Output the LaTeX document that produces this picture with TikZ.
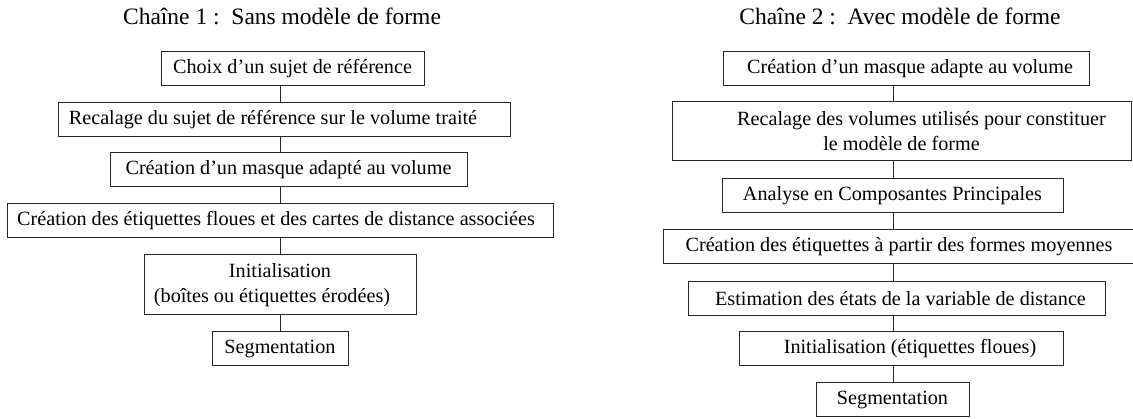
\documentclass[tikz,border=0pt]{standalone}
\usepackage{fontspec}
\setmainfont{Liberation Serif}
\colorlet{trait}{black!85}
\tikzset{
    etape/.style={draw=trait,line width=1pt,inner sep=0pt,minimum height=34pt,align=center,font=\fontsize{20.2}{25}\selectfont},
    titre/.style={inner sep=0pt,anchor=base,font=\fontsize{23.5}{27}\selectfont},
    lien/.style={trait,line width=1pt}
}
\begin{document}
\begin{tikzpicture}[x=1pt,y=-1pt]
    \useasboundingbox (0,0) rectangle (1133,419);
    % chaine 1
    \node [titre] (t1) at (282,25) {Chaîne 1 :\ \ Sans modèle de forme};
    \node [etape,minimum width=263pt] (c1a) at (292.5,69) {Choix d’un sujet de référence};
    \node [etape,minimum width=452pt] (c1b) at (284,119.5) {\hspace*{-22pt}Recalage du sujet de référence sur le volume traité};
    \node [etape,minimum width=357pt] (c1c) at (288.5,170) {Création d’un masque adapté au volume};
    \node [etape,minimum width=546pt] (c1d) at (280,221) {\hspace*{-8pt}Création des étiquettes floues et des cartes de distance associées};
    \node [etape,minimum width=272pt,minimum height=60pt] (c1e) at (280,285) {Initialisation\\\hspace*{-16pt}(boîtes ou étiquettes érodées)};
    \node [etape,minimum width=136pt] (c1f) at (280,349) {Segmentation};
    \coordinate (axe1) at (280,0);
    \foreach \a/\b in {c1a/c1b,c1b/c1c,c1c/c1d,c1d/c1e,c1e/c1f} {
        \draw [lien] (\a.south -| axe1) -- (\b.north -| axe1);
    }
    % chaine 2
    \node [titre] (t2) at (900,25) {Chaîne 2 :\ \ Avec modèle de forme};
    \node [etape,minimum width=366pt] (c2a) at (906,69) {\hspace*{8pt}Création d’un masque adapte au volume};
    \node [etape,minimum width=459pt,minimum height=59pt] (c2b) at (901.5,131.5) {\hspace*{40pt}Recalage des volumes utilisés pour constituer\\le modèle de forme};
    \node [etape,minimum width=341pt] (c2c) at (892.5,196) {Analyse en Composantes Principales};
    \node [etape,minimum width=472pt] (c2d) at (899,246.5) {Création des étiquettes à partir des formes moyennes};
    \node [etape,minimum width=417pt] (c2e) at (896.5,298.5) {\hspace*{8pt}Estimation des états de la variable de distance};
    \node [etape,minimum width=324pt] (c2f) at (901,349) {\hspace*{18pt}Initialisation (étiquettes floues)};
    \node [etape,minimum width=153pt] (c2g) at (892.5,400) {Segmentation};
    \coordinate (axe2) at (893,0);
    \foreach \a/\b in {c2a/c2b,c2b/c2c,c2c/c2d,c2d/c2e,c2e/c2f,c2f/c2g} {
        \draw [lien] (\a.south -| axe2) -- (\b.north -| axe2);
    }
\end{tikzpicture}
\end{document}
